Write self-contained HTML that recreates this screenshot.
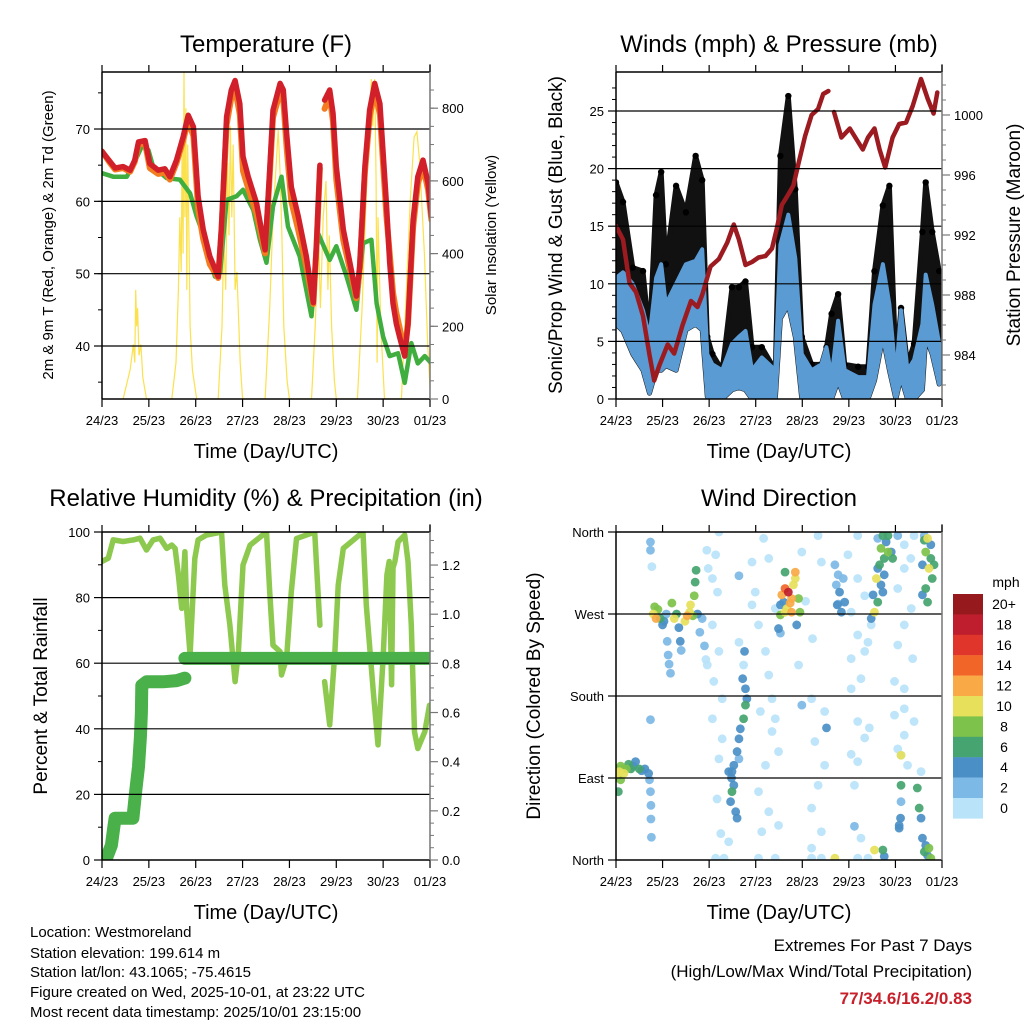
<!DOCTYPE html>
<html><head><meta charset="utf-8"><style>
html,body{margin:0;padding:0;background:#fff}
svg{display:block;font-family:"Liberation Sans",Arial,sans-serif}
</style></head><body>
<svg id="c" width="1024" height="1024" viewBox="0 0 1024 1024" xmlns="http://www.w3.org/2000/svg">
<defs>
<clipPath id="cp1"><rect x="102" y="72" width="328" height="327"/></clipPath>
<clipPath id="cp2"><rect x="616" y="72" width="326" height="327"/></clipPath>
<clipPath id="cp3"><rect x="102" y="532" width="328" height="328"/></clipPath>
<clipPath id="cp4"><rect x="616" y="532" width="326" height="328"/></clipPath>
</defs>
<text x="266" y="52" font-size="24" text-anchor="middle">Temperature (F)</text>
<text x="779" y="52" font-size="24" text-anchor="middle">Winds (mph) &amp; Pressure (mb)</text>
<text x="266" y="506" font-size="24" text-anchor="middle">Relative Humidity (%) &amp; Precipitation (in)</text>
<text x="779" y="506" font-size="24" text-anchor="middle">Wind Direction</text>
<text x="266" y="458" font-size="20" text-anchor="middle">Time (Day/UTC)</text>
<text x="779" y="458" font-size="20" text-anchor="middle">Time (Day/UTC)</text>
<text x="266" y="919" font-size="20" text-anchor="middle">Time (Day/UTC)</text>
<text x="779" y="919" font-size="20" text-anchor="middle">Time (Day/UTC)</text>
<text transform="translate(53,235) rotate(-90)" font-size="15" text-anchor="middle">2m &amp; 9m T (Red, Orange) &amp; 2m Td (Green)</text>
<text transform="translate(496,235) rotate(-90)" font-size="15" text-anchor="middle">Solar Insolation (Yellow)</text>
<text transform="translate(562,235) rotate(-90)" font-size="19" text-anchor="middle">Sonic/Prop Wind &amp; Gust (Blue, Black)</text>
<text transform="translate(1020,235) rotate(-90)" font-size="19" text-anchor="middle">Station Pressure (Maroon)</text>
<text transform="translate(47,696) rotate(-90)" font-size="19" text-anchor="middle">Percent &amp; Total Rainfall</text>
<text transform="translate(540,696) rotate(-90)" font-size="19" text-anchor="middle">Direction (Colored By Speed)</text>
<g font-size="15">
<text x="30" y="937">Location: Westmoreland</text>
<text x="30" y="958">Station elevation: 199.614 m</text>
<text x="30" y="977">Station lat/lon: 43.1065; -75.4615</text>
<text x="30" y="997">Figure created on Wed, 2025-10-01, at 23:22 UTC</text>
<text x="30" y="1017">Most recent data timestamp: 2025/10/01 23:15:00</text>
</g>
<g text-anchor="end" font-size="17">
<text x="972" y="951">Extremes For Past 7 Days</text>
<text x="972" y="977">(High/Low/Max Wind/Total Precipitation)</text>
<text x="972" y="1004" fill="#c8202a" font-weight="bold">77/34.6/16.2/0.83</text>
</g>
<text x="1006" y="587" font-size="14" text-anchor="middle">mph</text>
</svg>
<script>
// ---------- DATA ----------
const dayLabels=["24/23","25/23","26/23","27/23","28/23","29/23","30/23","01/23"];
const tempTicks=[40,50,60,70];
const solarTicks=[0,200,400,600,800];
const windTicks=[0,5,10,15,20,25];
const presTicks=[984,988,992,996,1000];
const rhTicks=[0,20,40,60,80,100];
const precipTicks=["0.0","0.2","0.4","0.6","0.8","1.0","1.2"];
const dirTicks=["North","East","South","West","North"];
const speedLabels=["20+","18","16","14","12","10","8","6","4","2","0"];
const speedColors=["#96191d","#be1e2d","#e0352b","#f26529","#f9a945","#e6e05a","#7dc24a","#45a46f","#4a8fc6","#7db9e6","#b9e3f8"];

const redT=[0,0.17,0.28,0.45,0.60,0.70,0.78,0.92,1.02,1.20,1.34,1.45,1.59,1.73,1.84,1.95,2.05,2.16,2.30,2.48,2.55,2.66,2.76,2.84,2.94,3.01,3.12,3.30,3.48,3.58,3.65,3.80,3.87,3.94,4.04,4.19,4.36,4.51,4.58,4.65,null,4.75,4.86,4.93,5.00,5.15,5.29,5.43,5.50,5.61,5.71,5.82,5.93,6.07,6.14,6.21,6.28,6.35,6.46,6.53,6.64,6.74,6.85,6.96,7.03];
const redV=[66.9,65.5,64.6,64.8,64.3,65.7,68.2,68.4,65.2,64.3,64.5,63.4,65.7,68.9,71.9,70.3,60.7,56.1,52.4,49.6,56.5,71.7,75.4,76.7,73.5,66.2,63.4,59.7,53.3,64.3,72.6,76.3,75.4,69.4,62.0,57.9,52.4,46.0,54.4,65.0,null,74.0,75.4,72.2,64.8,56.1,51.5,46.9,51.0,64.8,72.6,76.3,73.5,59.7,51.5,45.9,43.1,41.3,38.6,43.1,57.4,63.4,65.7,62.5,57.9];
const orangeV=[66.9,65.3,64.4,64.6,64.1,65.5,67.9,68.0,64.6,63.8,64.0,63.0,65.3,68.4,71.2,69.0,59.0,54.8,51.3,49.4,56.0,70.6,74.3,75.6,72.0,64.2,61.8,58.2,52.8,63.5,71.6,75.1,74.0,67.5,60.0,56.0,51.0,45.8,54.0,64.6,null,72.8,74.6,71.0,63.0,54.6,50.6,46.6,50.6,64.0,71.6,75.4,72.0,58.0,52.8,47.4,44.6,42.6,39.2,43.0,56.4,62.4,64.8,61.6,57.4];
const dewT=[0,0.24,0.53,0.70,0.85,0.99,1.09,1.38,1.66,1.88,2.02,2.23,2.41,2.52,2.66,2.87,3.01,3.23,3.37,3.51,3.65,3.83,3.97,4.22,4.47,4.58,4.61,4.86,5.00,5.22,5.43,5.57,5.75,5.86,6.00,6.14,6.32,6.46,6.60,6.74,6.89,7.03];
const dewV=[63.9,63.4,63.4,65.5,67.6,67.1,64.8,63.2,63.0,61.1,57.9,54.2,49.6,50.1,60.2,60.7,61.6,58.8,54.7,51.5,59.3,63.4,56.5,52.4,44.1,52.4,55.6,51.9,53.8,49.6,45.0,54.2,54.7,45.9,41.3,38.6,39.0,34.9,40.4,37.6,38.6,37.6];
const solarT=[0.45,0.6,0.67,0.70,0.72,0.74,0.76,0.79,0.83,0.87,0.95,1.49,1.58,1.63,1.66,1.69,1.71,1.73,1.75,1.77,1.79,1.81,1.83,1.86,1.88,1.93,2.02,2.48,2.56,2.6,2.64,2.68,2.71,2.74,2.77,2.80,2.84,2.88,2.95,3.0,3.48,3.58,3.65,3.72,3.76,3.80,3.84,3.88,3.95,4.0,4.47,4.55,4.62,4.66,4.72,4.78,4.82,4.85,4.9,4.96,5.0,5.45,5.55,5.65,5.72,5.75,5.78,5.82,5.85,5.87,5.89,5.95,6.03,6.39,6.48,6.58,6.66,6.72,6.78,6.88,6.95,7.0];
const solarV=[0,80,150,100,300,200,250,120,150,60,0,0,100,300,500,350,700,400,900,500,800,300,700,400,200,80,0,0,200,450,300,650,450,750,500,700,300,350,100,0,0,250,500,650,740,620,450,200,50,0,0,200,450,250,500,600,300,450,200,50,0,0,250,600,800,880,750,880,600,100,500,200,0,0,250,550,720,735,650,400,150,30];

const windT=[0,0.15,0.36,0.58,0.72,0.86,0.97,1.07,1.29,1.50,1.71,1.85,1.96,2.07,2.28,2.49,2.64,2.78,2.92,3.13,3.42,3.53,3.70,3.85,3.99,4.20,4.41,4.52,4.63,4.77,4.91,5.20,5.41,5.55,5.73,5.87,6.01,6.12,6.26,6.40,6.58,6.65,6.79,6.94];
const windHi=[10.5,11,10,7.7,5.4,10.5,11.7,8.2,10,11.7,12,13,3.9,3,2.5,4.8,5.4,5.9,2.5,3.6,2.5,13.4,16,12.2,3.9,2.5,3,4.5,1.9,6.8,2.5,1.9,1.9,8.2,11.7,8.2,1.9,7.7,2.5,3.4,6.5,10.8,8.2,4.8];
const windLo=[6.5,5.9,3.9,2.5,0.5,2.5,2.5,2.9,2.5,6,6.5,6,0.2,0,0,0.8,1,0.8,0,0,0,7,8.2,5.4,0,0,0,0,0,1.6,0,0,0,1.6,5.4,2.5,0,1.9,0,0,0.8,5.4,3.9,1.3];
const gustV=[18.8,17.1,11.4,11.1,5.4,17.7,19.7,11.7,18.5,16.2,21.1,19,5.4,3.9,2.5,9.7,9.7,10.2,4.5,4.5,2.5,21.1,26.3,18.2,5.4,3,3,4.5,7.4,9.1,3,2.8,2.8,11.1,16.8,18.5,3,7.9,3,4.8,14.5,18.8,14.5,11.1];
const presT=[0,0.15,0.29,0.43,0.58,0.72,0.82,0.93,1.11,1.25,1.43,1.61,1.75,1.85,2.03,2.21,2.39,2.53,2.64,2.78,2.92,3.06,3.21,3.35,3.45,3.56,3.70,3.81,3.92,4.06,4.20,4.34,4.45,4.56,null,4.68,4.84,5.02,5.16,5.30,5.41,5.55,5.66,5.78,5.94,6.08,6.23,6.37,6.55,6.69,6.82,6.90];
const presV=[992.6,991.7,988.8,988.2,986.6,984.0,982.3,983.3,984.7,984.1,986.0,987.6,987.2,988.0,989.9,990.4,991.5,992.7,991.7,990.0,990.2,990.5,990.6,991.1,992.4,994.0,994.7,995.3,996.8,998.6,1000.0,1000.4,1001.4,1001.6,null,1000.2,998.5,999.1,998.4,997.7,998.5,999.1,997.7,996.5,998.5,999.4,999.5,1000.6,1002.4,1001.1,1000.1,1001.5];

const rhT=[0,0.135,0.24,0.45,0.67,0.81,0.95,1.09,1.24,1.38,1.49,1.56,1.63,1.70,1.77,1.81,1.88,1.91,1.98,2.05,2.23,2.55,2.62,2.73,2.84,2.91,3.01,3.16,3.51,3.58,3.65,3.80,3.83,3.94,4.04,4.15,4.54,4.61,4.65,null,4.75,4.86,4.97,5.04,5.15,5.57,5.64,5.79,5.89,6.00,6.08,6.13,6.18,6.21,6.25,6.32,6.46,6.53,6.60,6.67,6.74,6.89,6.99];
const rhV=[91.0,92.0,97.6,97.1,97.6,98.1,94.5,97.6,98.1,95.0,96.0,95.0,86.9,76.7,94.0,75.7,62.5,71.6,91.9,97.6,99.1,100,83.8,71.6,54.4,63.5,89.9,96.0,100,81.8,65.5,63.5,56.4,61.5,81.8,98.0,100,81.8,71.6,null,54.4,41.2,63.5,83.8,95.0,100,77.7,51.3,35.1,61.5,86.9,91.0,53.4,89.1,91.0,97.0,99.1,91.0,71.6,39.1,34.0,39.1,47.2];
const rainT=[0,0.1,0.2,0.25,0.28,0.66,0.72,0.78,0.82,0.84,0.85,0.95,1.3,1.6,1.77,null,1.77,7.05];
const rainV=[0,0.01,0.06,0.13,0.17,0.17,0.28,0.38,0.5,0.6,0.71,0.725,0.725,0.73,0.74,null,0.82,0.82];

const dirT=[0,0.03,0.07,0.1,0.13,0.17,0.22,0.27,0.32,0.37,0.42,0.5,0.55,0.62,0.7,0.72,0.74,0.75,0.75,0.76,0.05,0.1,0.74,0.74,0.74,0.77,
0.8,0.83,0.86,0.9,0.95,1.0,1.03,1.08,1.1,1.12,1.14,1.17,1.2,1.25,1.3,1.35,1.38,1.4,1.48,1.53,1.58,1.6,1.65,1.68,1.7,1.72,1.75,1.8,1.85,1.9,1.93,1.95,1.98,
2.21,2.14,2.07,2.18,2.07,2.21,1.96,2.10,2.28,2.07,2.28,2.21,2.17,2.25,2.14,2.32,2.42,2.64,2.64,2.92,3.06,2.99,3.21,3.28,3.10,3.35,3.49,3.21,3.06,3.28,3.13,3.06,3.42,3.28,3.42,3.17,2.92,3.35,3.42,3.49,4.20,4.41,4.34,4.41,3.99,4.07,4.22,3.92,4.20,4.48,4.27,4.48,4.34,4.20,4.41,4.20,4.52,3.99,5.19,4.98,5.19,5.34,5.05,5.19,5.34,5.05,5.26,5.05,5.19,5.44,5.34,5.05,5.19,5.12,5.26,5.12,5.19,5.41,5.48,5.41,6.19,6.19,6.05,6.34,6.19,6.05,6.37,5.98,6.19,6.19,6.40,6.19,6.05,6.26,6.55,6.40,6.33,5.98,6.12,6.05,
2.76,2.74,2.72,2.78,2.81,2.78,2.74,2.67,2.64,2.60,2.53,2.49,2.48,2.53,2.49,2.46,2.57,2.60,2.42,2.64,
3.53,3.60,3.67,3.74,3.77,3.70,3.63,3.56,3.81,3.63,3.53,3.77,3.85,3.85,3.63,3.92,3.95,3.88,3.49,3.53,
4.70,4.77,4.80,4.75,4.84,4.73,4.88,4.91,4.77,
5.62,5.73,5.80,5.84,5.69,5.76,5.66,5.59,5.69,5.73,5.62,5.55,5.76,5.91,5.94,5.52,5.62,5.48,5.84,
6.62,6.69,6.65,6.76,6.58,6.72,6.79,6.65,6.69,6.58,6.83,6.62,6.76,
6.12,6.12,6.12,6.11,6.08,6.47,6.51,6.55,6.58,6.65,6.69,6.72,6.76,6.62,5.73,5.76,5.55,4.70,6.08];
const dirV=[100,95,97,103,100,95,100,105,100,103,108,100,98,100,95,88,75,60,45,25,75,88,154,349,340,322,
270,278,265,275,265,258,262,270,240,225,215,205,282,265,270,255,240,230,262,268,272,280,268,290,305,318,270,250,265,235,220,340,320,
360,335,309,294,258,229,214,196,177,155,133,111,67,29,2,2,20,239,312,327,258,294,229,203,163,141,119,104,75,53,31,2,2,331,276,353,280,177,155,38,2,2,356,327,338,284,243,214,177,163,130,104,82,57,31,13,145,170,356,335,309,290,272,247,229,221,199,188,152,145,134,116,108,82,24,37,2,2,258,239,346,320,298,276,258,236,221,196,188,166,152,137,122,104,97,356,331,159,115,356,
229,214,199,188,177,170,155,144,133,119,104,97,90,82,75,64,53,46,97,111,
280,283,276,282,287,294,298,291,302,272,269,272,309,316,316,287,272,258,254,249,
324,313,294,280,272,302,309,283,281,
353,356,349,338,342,331,324,309,302,294,283,272,313,338,331,291,320,265,356,
356,353,338,331,324,320,309,298,283,291,324,351,346,
115,82,64,46,35,79,57,46,24,16,5,13,2,9,11,4,11,2,38];
const dirS=[9,10,10,9,9,10,9,7,6,5,5,6,4,4,4,3,3,3,2,2,7,8,3,3,2,1,
10,9,12,8,6,4,4,3,3,2,2,2,8,10,6,4,4,3,10,12,10,10,8,8,7,6,4,2,2,2,1,1,1,
1,1,1,1,1,1,1,1,1,1,1,1,1,1,1,1,1,1,3,1,1,1,1,1,1,1,1,1,1,1,1,1,1,1,1,1,1,1,1,1,1,1,1,1,1,1,1,1,1,1,1,1,1,1,1,1,4,3,1,1,1,1,1,1,1,1,1,1,1,1,1,1,1,1,1,3,1,1,1,1,1,1,1,1,1,1,1,1,1,1,1,1,1,1,1,1,1,1,1,3,4,1,
4,4,5,6,7,5,4,4,4,5,5,4,6,4,4,4,4,3,5,5,
11,12,13,18,14,12,10,10,9,12,11,12,6,8,8,4,4,3,3,3,
4,4,4,3,3,4,3,2,6,
5,8,8,6,6,10,5,4,6,10,4,4,6,4,4,4,6,3,10,
8,6,5,10,6,6,6,5,6,6,4,10,6,
2,4,4,6,6,4,4,4,5,8,8,6,6,4,10,10,4,4,7];

// ---------- HELPERS ----------
const NS="http://www.w3.org/2000/svg";
const svg=document.getElementById('c');
function mk(tag,attrs,parent){const e=document.createElementNS(NS,tag);for(const k in attrs)e.setAttribute(k,attrs[k]);(parent||svg).appendChild(e);return e;}
function pathFrom(ts,vs,xf,yf){let d="",pen=false;for(let i=0;i<ts.length;i++){if(ts[i]===null||vs[i]===null){pen=false;continue;}d+=(pen?"L":"M")+xf(ts[i]).toFixed(1)+" "+yf(vs[i]).toFixed(1)+" ";pen=true;}return d;}
const P1={x0:102,x1:430,y0:72,y1:399},P2={x0:616,x1:942,y0:72,y1:399},P3={x0:102,x1:430,y0:532,y1:860},P4={x0:616,x1:942,y0:532,y1:860};
function xsc(p){return t=>p.x0+t*(p.x1-p.x0)/7;}
const x1=xsc(P1),x2=xsc(P2),x3=xsc(P3),x4=xsc(P4);
const tempY=v=>346-(v-40)*7.233, solarY=s=>399-s*0.3635;
const windY=v=>399-v*11.52, presY=p=>355-(p-984)*15;
const rhY=v=>860-v*3.28, rainY=p=>860-p*245.8;
const dirY=d=>860-d*0.9111;

function frame(p,name,xf,leftVals,leftY,leftLab,rightVals,rightY,rightLab,grid,leftMinor,rightMinor){
  const g=mk('g',{});
  
  
  grid.forEach(v=>{const y=leftY(v);if(y>p.y0+1&&y<p.y1-1){const l=mk('line',{x1:p.x0,x2:p.x1,y1:y,y2:y,stroke:'#000','stroke-width':1.2},g);}});
  mk('line',{x1:p.x0,x2:p.x1,y1:p.y0,y2:p.y0,stroke:'#000','stroke-width':1.5},g);
  mk('line',{x1:p.x0,x2:p.x1,y1:p.y1,y2:p.y1,stroke:'#000','stroke-width':1.5},g);
  mk('line',{x1:p.x0,x2:p.x0,y1:p.y0,y2:p.y1,stroke:'#000','stroke-width':1.5},g);
  mk('line',{x1:p.x1,x2:p.x1,y1:p.y0-8,y2:p.y1,stroke:'#777','stroke-width':1.5},g);
  for(let d=0;d<=7;d++){const x=xf(d);mk('line',{x1:x,x2:x,y1:p.y1,y2:p.y1+8,stroke:'#000','stroke-width':1.2},g);mk('line',{x1:x,x2:x,y1:p.y0,y2:p.y0-7,stroke:'#000','stroke-width':1.2},g);
    const t=mk('text',{x:x,y:p.y1+26,'font-size':13,'text-anchor':'middle'},g);t.textContent=dayLabels[d];}
  leftVals.forEach((v,i)=>{const y=leftY(v);mk('line',{x1:p.x0-8,x2:p.x0,y1:y,y2:y,stroke:'#000','stroke-width':1.2},g);
    const t=mk('text',{x:p.x0-12,y:y+5,'font-size':13,'text-anchor':'end'},g);t.textContent=leftLab[i];});
  leftMinor.forEach(v=>{const y=leftY(v);if(y>=p.y0&&y<=p.y1)mk('line',{x1:p.x0-4,x2:p.x0,y1:y,y2:y,stroke:'#000','stroke-width':1},g);});
  rightVals.forEach((v,i)=>{const y=rightY(v);mk('line',{x1:p.x1,x2:p.x1+8,y1:y,y2:y,stroke:'#777','stroke-width':1.2},g);
    if(rightLab){const t=mk('text',{x:p.x1+12,y:y+5,'font-size':13},g);t.textContent=rightLab[i];}});
  rightMinor.forEach(v=>{const y=rightY(v);if(y>=p.y0&&y<=p.y1)mk('line',{x1:p.x1,x2:p.x1+4,y1:y,y2:y,stroke:'#777','stroke-width':1},g);});
}
function range(a,b,s){const r=[];for(let v=a;v<=b+1e-9;v+=s)r.push(+v.toFixed(3));return r;}

// ---------- PANEL 1: TEMPERATURE ----------
const g1=mk('g',{'clip-path':'url(#cp1)'});


const sol=mk('path',{d:pathFrom(solarT,solarV,x1,solarY),fill:'none',stroke:'#fbe14d','stroke-width':1.2},g1);


const dew=mk('path',{d:pathFrom(dewT,dewV,x1,tempY),fill:'none',stroke:'#3fae3f','stroke-width':4.5,'stroke-linejoin':'round','stroke-linecap':'round'},g1);


const ora=mk('path',{d:pathFrom(redT,orangeV,x1,tempY),fill:'none',stroke:'#f47c20','stroke-width':6,'stroke-linejoin':'round','stroke-linecap':'round'},g1);


const red=mk('path',{d:pathFrom(redT,redV,x1,tempY),fill:'none',stroke:'#d2202a','stroke-width':5.5,'stroke-linejoin':'round','stroke-linecap':'round'},g1);


frame(P1,'temperature',x1,tempTicks,tempY,tempTicks.map(String),solarTicks,solarY,solarTicks.map(String),tempTicks,range(35,75,5),range(0,850,50));

// ---------- PANEL 2: WINDS ----------
const g2=mk('g',{'clip-path':'url(#cp2)'});


function band(ts,hi,lo,xf,yf){let d="";for(let i=0;i<ts.length;i++)d+=(i?"L":"M")+xf(ts[i]).toFixed(1)+" "+yf(hi[i]).toFixed(1)+" ";for(let i=ts.length-1;i>=0;i--)d+="L"+xf(ts[i]).toFixed(1)+" "+yf(lo[i]).toFixed(1)+" ";return d+"Z";}
const gb=mk('path',{d:band(windT,gustV,windLo,x2,windY),fill:'#111',stroke:'#111','stroke-width':5,'stroke-linejoin':'round'},g2);


windT.forEach((t,i)=>{const c=mk('circle',{cx:x2(t),cy:windY(gustV[i]),r:3.2,fill:'#000'},g2);

});
const wb=mk('path',{d:band(windT,windHi,windLo,x2,windY),fill:'#5a9bd4',stroke:'#5a9bd4','stroke-width':4,'stroke-linejoin':'round'},g2);


const pr=mk('path',{d:pathFrom(presT,presV,x2,presY),fill:'none',stroke:'#9c1b20','stroke-width':4.5,'stroke-linejoin':'round','stroke-linecap':'round'},g2);


frame(P2,'winds',x2,windTicks,windY,windTicks.map(String),presTicks,presY,presTicks.map(String),windTicks,range(1,27,1).filter(v=>v%5),range(982,1002,1).filter(v=>v%4));

// ---------- PANEL 3: RH ----------
const g3=mk('g',{'clip-path':'url(#cp3)'});


const rh=mk('path',{d:pathFrom(rhT,rhV,x3,rhY),fill:'none',stroke:'#8dc94e','stroke-width':5.5,'stroke-linejoin':'round','stroke-linecap':'round'},g3);


const rn=mk('path',{d:pathFrom(rainT,rainV,x3,rainY),fill:'none',stroke:'#49b04a','stroke-width':13,'stroke-linejoin':'round','stroke-linecap':'round'},g3);


frame(P3,'humidity',x3,rhTicks,rhY,rhTicks.map(String),precipTicks.map(Number),rainY,precipTicks,rhTicks,range(10,90,20),range(0.05,1.3,0.05).filter((v,i)=>(i+1)%4));

// ---------- PANEL 4: WIND DIRECTION ----------
const g4=mk('g',{'clip-path':'url(#cp4)'});


function spdColor(s){let k=Math.min(10,Math.floor(s/2));return speedColors[10-k];}
const order=dirS.map((s,i)=>i).sort((a,b)=>dirS[a]-dirS[b]);
order.forEach(i=>{const c=mk('circle',{cx:x4(dirT[i]),cy:dirY(dirV[i]),r:4.4,fill:spdColor(dirS[i]),'fill-opacity':0.92},g4);

});
frame(P4,'wind-direction',x4,[0,90,180,270,360],dirY,dirTicks,[],dirY,null,[90,180,270],[],[]);
const cb=mk('g',{});


speedColors.forEach((col,i)=>{const y=594+i*20.4;const r=mk('rect',{x:953,y:y,width:30,height:20.6,fill:col},cb);


const t=mk('text',{x:1004,y:y+15,'font-size':14,'text-anchor':'middle'},cb);t.textContent=speedLabels[i];

});
</script>
</body></html>
